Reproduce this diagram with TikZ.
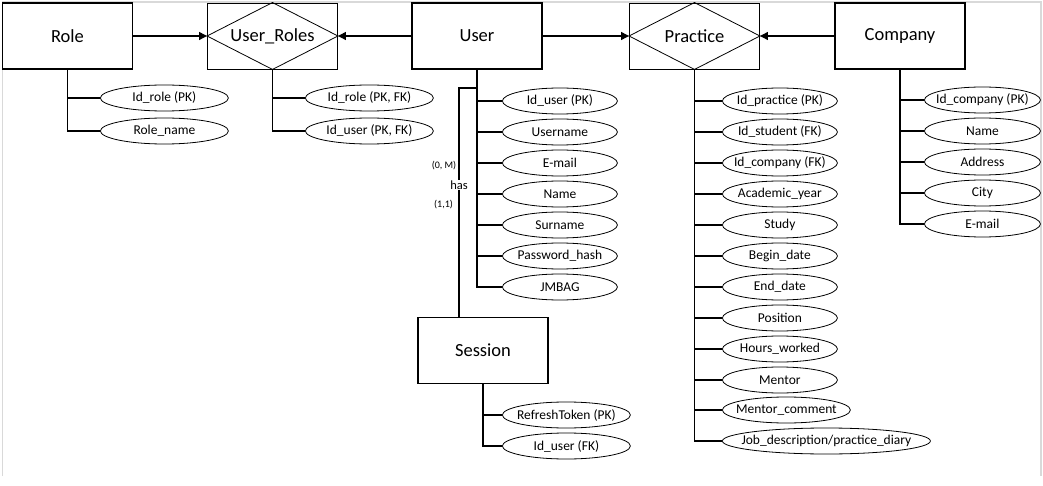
\documentclass[tikz,border=0pt]{standalone}
\usepackage{fontspec}
\setmainfont{Carlito}
\usetikzlibrary{arrows.meta,shapes.geometric}
\begin{document}
\begin{tikzpicture}[x=1pt,y=-1pt,
  entity/.style={draw, line width=1.3pt, minimum width=130pt, minimum height=66pt,
    inner sep=0pt, font=\fontsize{18.5}{20}\selectfont},
  relbox/.style={entity, line width=0.9pt},
  diamondline/.style={line width=0.8pt},
  attr/.style={draw, ellipse, line width=0.8pt, minimum width=#1, minimum height=26pt,
    inner xsep=-15pt, inner ysep=0pt, anchor=west, font=\fontsize{13.5}{15}\selectfont},
  attr/.default=115pt,
  spine/.style={line width=1.5pt},
  link/.style={line width=1.2pt, -{Triangle[length=8pt,width=8pt]}},
  card/.style={inner sep=0pt, font=\fontsize{10}{11}\selectfont},
]
\useasboundingbox (0,0) rectangle (1043,486);
% light frame around the sheet
\draw[black!15, line width=1.5pt] (2.5,476) -- (2.5,2) -- (1041,2) -- (1041,476);

% entities and relationships
\node[entity] (role) at (67.5,36) {Role};
\node[relbox] (ur) at (272.5,36) {User\_Roles};
\node[entity] (user) at (477,36) {User};
\node[relbox] (pr) at (694.5,36) {Practice};
\node[entity] (comp) at (900,36) {Company};
\node[entity] (sess) at (483,350.5) {Session};

\draw[diamondline] (ur.north) -- (ur.east) -- (ur.south) -- (ur.west) -- cycle;
\draw[diamondline] (pr.north) -- (pr.east) -- (pr.south) -- (pr.west) -- cycle;

\draw[link] (role.east) -- (ur.west);
\draw[link] (user.west) -- (ur.east);
\draw[link] (user.east) -- (pr.west);
\draw[link] (comp.west) -- (pr.east);

% Role attributes
\node[attr=128pt] (r1) at (100,98) {Id\_role (PK)};
\node[attr=128pt] (r2) at (100,131) {Role\_name};
\draw[spine] (role.south) |- (r2.west);
\draw[spine] (role.south |- r1.west) -- (r1.west);

% User_Roles attributes
\node[attr=128pt] (ur1) at (305,98) {Id\_role (PK, FK)};
\node[attr=128pt] (ur2) at (305,131) {Id\_user (PK, FK)};
\draw[spine] (ur.south) |- (ur2.west);
\draw[spine] (ur.south |- ur1.west) -- (ur1.west);

% User attributes
\node[attr] (u1) at (502,101) {Id\_user (PK)};
\node[attr] (u2) at (502,132) {Username};
\node[attr] (u3) at (502,163) {E-mail};
\node[attr] (u4) at (502,194) {Name};
\node[attr] (u5) at (502,225) {Surname};
\node[attr] (u6) at (502,256) {Password\_hash};
\node[attr] (u7) at (502,287) {JMBAG};
\draw[spine] (user.south) |- (u7.west);
\foreach \a in {u1,u2,u3,u4,u5,u6}
  \draw[spine] (user.south |- \a.west) -- (\a.west);

% Practice attributes
\node[attr] (p1) at (722,101) {Id\_practice (PK)};
\node[attr] (p2) at (722,132) {Id\_student (FK)};
\node[attr] (p3) at (722,163) {Id\_company (FK)};
\node[attr] (p4) at (722,194) {Academic\_year};
\node[attr] (p5) at (722,225) {Study};
\node[attr] (p6) at (722,256) {Begin\_date};
\node[attr] (p7) at (722,287) {End\_date};
\node[attr] (p8) at (722,318) {Position};
\node[attr] (p9) at (722,349) {Hours\_worked};
\node[attr] (p10) at (722,380) {Mentor};
\node[attr=128pt] (p11) at (722,410) {Mentor\_comment};
\node[attr=208pt] (p12) at (722,441) {Job\_description/practice\_diary};
\draw[spine] (pr.south) |- (p12.west);
\foreach \a in {p1,p2,p3,p4,p5,p6,p7,p8,p9,p10,p11}
  \draw[spine] (pr.south |- \a.west) -- (\a.west);

% Company attributes
\node[attr=116pt] (c1) at (924,100) {Id\_company (PK)};
\node[attr=116pt] (c2) at (924,131) {Name};
\node[attr=116pt] (c3) at (924,162) {Address};
\node[attr=116pt] (c4) at (924,193) {City};
\node[attr=116pt] (c5) at (924,224) {E-mail};
\draw[spine] (comp.south) |- (c5.west);
\foreach \a in {c1,c2,c3,c4}
  \draw[spine] (comp.south |- \a.west) -- (\a.west);

% Session attributes
\node[attr=128pt] (s1) at (502,415) {RefreshToken (PK)};
\node[attr=128pt] (s2) at (502,446) {Id\_user (FK)};
\draw[spine] (sess.south) |- (s2.west);
\draw[spine] (sess.south |- s1.west) -- (s1.west);

% User -- Session relationship "has"
\coordinate (hasjoin) at (477,88);
\coordinate (hasbend) at (459,88);
\draw[line width=1.3pt] (hasjoin) -- (hasbend) -- (hasbend |- sess.north);
\node[fill=white, inner sep=1pt, font=\fontsize{12.5}{14}\selectfont] (has) at (459,185) {has};
\node[card] (cm) at (444,166) {(0, M)};
\node[card] (c11) at (443.5,205) {(1,1)};
\end{tikzpicture}
\end{document}
